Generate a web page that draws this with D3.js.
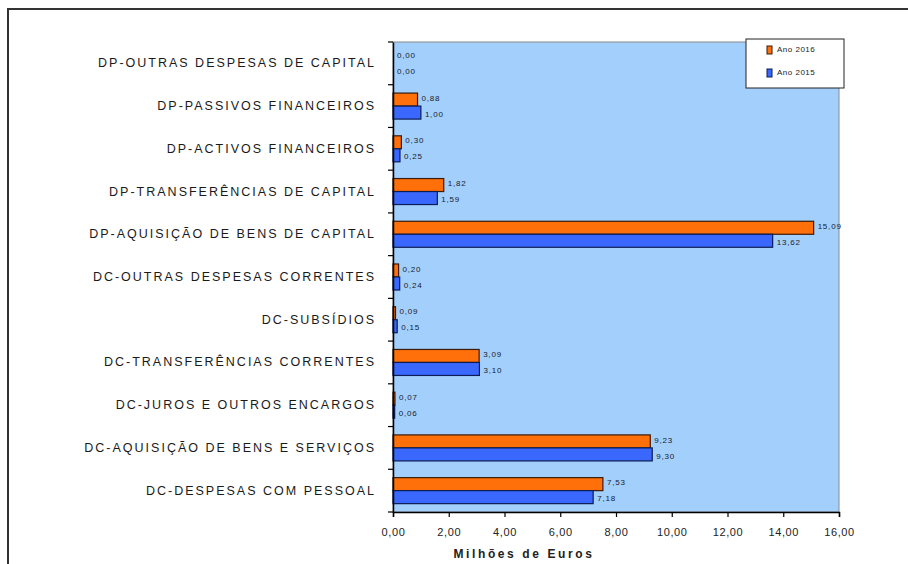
<!DOCTYPE html>
<html><head><meta charset="utf-8">
<script src="https://cdn.jsdelivr.net/npm/d3@7"></script>
<style>body{margin:0;background:#fff;}svg{display:block;font-family:"Liberation Sans",Arial,sans-serif;}</style>
</head><body><svg id="c" width="908" height="564"></svg>
<script>
const categories = [
  "DP-OUTRAS DESPESAS DE CAPITAL",
  "DP-PASSIVOS FINANCEIROS",
  "DP-ACTIVOS FINANCEIROS",
  "DP-TRANSFERÊNCIAS DE CAPITAL",
  "DP-AQUISIÇÃO DE BENS DE CAPITAL",
  "DC-OUTRAS DESPESAS CORRENTES",
  "DC-SUBSÍDIOS",
  "DC-TRANSFERÊNCIAS CORRENTES",
  "DC-JUROS E OUTROS ENCARGOS",
  "DC-AQUISIÇÃO DE BENS E SERVIÇOS",
  "DC-DESPESAS COM PESSOAL"
];
const values2016 = [0.00, 0.88, 0.30, 1.82, 15.09, 0.20, 0.09, 3.09, 0.07, 9.23, 7.53];
const values2015 = [0.00, 1.00, 0.25, 1.59, 13.62, 0.24, 0.15, 3.10, 0.06, 9.30, 7.18];
const seriesNames = ["Ano 2016", "Ano 2015"];
const xTicks = [0, 2, 4, 6, 8, 10, 12, 14, 16];
const axisTitle = "Milhões de Euros";

const svg = d3.select("#c");
const fmt = v => d3.format(".2f")(v).replace(".", ",");

// outer frame
svg.append("rect").attr("x", 8).attr("y", 9).attr("width", 920).attr("height", 600)
  .attr("fill", "#fff").attr("stroke", "#333").attr("stroke-width", 2);

const L = 393, R = 839, T = 42, B = 512;
const x = d3.scaleLinear().domain([0, 16]).range([L, R]);
const y = d3.scaleBand().domain(categories).range([T, B]).padding(0);

// plot background
svg.append("rect").attr("x", L).attr("y", T).attr("width", R - L).attr("height", B - T)
  .attr("fill", "#a3cffd").attr("stroke", "#8a8a8a").attr("stroke-width", 1);

const bh = 13;
const off = (y.bandwidth() - 2 * bh) / 2;
const series = [
  {name: seriesNames[0], vals: values2016, fill: "#ff700a", stroke: "#3a1a08", idx: 0},
  {name: seriesNames[1], vals: values2015, fill: "#3a68ff", stroke: "#0c1c55", idx: 1}
];

series.forEach(s => {
  const g = svg.append("g");
  g.selectAll("rect").data(categories).join("rect")
    .attr("x", x(0))
    .attr("y", c => y(c) + off + s.idx * bh)
    .attr("width", (c, i) => x(s.vals[i]) - x(0))
    .attr("height", bh)
    .attr("fill", s.fill).attr("stroke", s.stroke).attr("stroke-width", 1.2);
  g.selectAll("text").data(categories).join("text")
    .attr("x", (c, i) => x(s.vals[i]) + 4)
    .attr("y", c => y(c) + off + s.idx * bh + bh / 2 + (s.idx === 0 ? -1 : 2))
    .attr("dominant-baseline", "middle")
    .attr("font-size", 8).attr("fill", "#1a1a2a").attr("letter-spacing", 0.8)
    .text((c, i) => fmt(s.vals[i]));
});

// y axis
const yAxis = d3.axisLeft(y).tickSize(0).tickPadding(17);
const gy = svg.append("g").attr("transform", `translate(${L},0)`).call(yAxis);
gy.select(".domain").attr("stroke", "#000").attr("stroke-width", 1.5);
gy.selectAll("text").attr("font-size", 12.5).attr("fill", "#1a1a1a").attr("letter-spacing", 2.0)
  .attr("font-family", "Liberation Sans, Arial, sans-serif");
// band boundary ticks
const bounds = categories.map(c => y(c)).concat([B]);
svg.append("g").selectAll("line").data(bounds).join("line")
  .attr("x1", L - 5).attr("x2", L).attr("y1", d => d).attr("y2", d => d)
  .attr("stroke", "#000").attr("stroke-width", 1.2);

// x axis
const xAxis = d3.axisBottom(x).tickValues(xTicks).tickSize(5).tickPadding(11).tickFormat(fmt);
const gx = svg.append("g").attr("transform", `translate(0,${B})`).call(xAxis);
gx.select(".domain").attr("stroke", "#000").attr("stroke-width", 1.5);
gx.selectAll("line").attr("stroke", "#000").attr("stroke-width", 1.2);
gx.selectAll("text").attr("font-size", 11).attr("fill", "#222").attr("letter-spacing", 0.6)
  .attr("font-family", "Liberation Sans, Arial, sans-serif");

svg.append("text").attr("x", 524).attr("y", 558).attr("text-anchor", "middle")
  .attr("font-size", 12).attr("font-weight", "bold").attr("letter-spacing", 2.6)
  .attr("fill", "#222").text(axisTitle);

// legend
const lg = svg.append("g");
lg.append("rect").attr("x", 746).attr("y", 39).attr("width", 98).attr("height", 49)
  .attr("fill", "#fff").attr("stroke", "#222").attr("stroke-width", 1);
series.forEach((s, i) => {
  const cy = 50 + i * 23;
  lg.append("rect").attr("x", 767).attr("y", cy - 4).attr("width", 5).attr("height", 8)
    .attr("fill", s.fill).attr("stroke", s.stroke).attr("stroke-width", 1);
  lg.append("text").attr("x", 777).attr("y", cy).attr("dominant-baseline", "middle")
    .attr("font-size", 8).attr("fill", "#222").attr("letter-spacing", 0.5).text(s.name);
});
</script></body></html>
